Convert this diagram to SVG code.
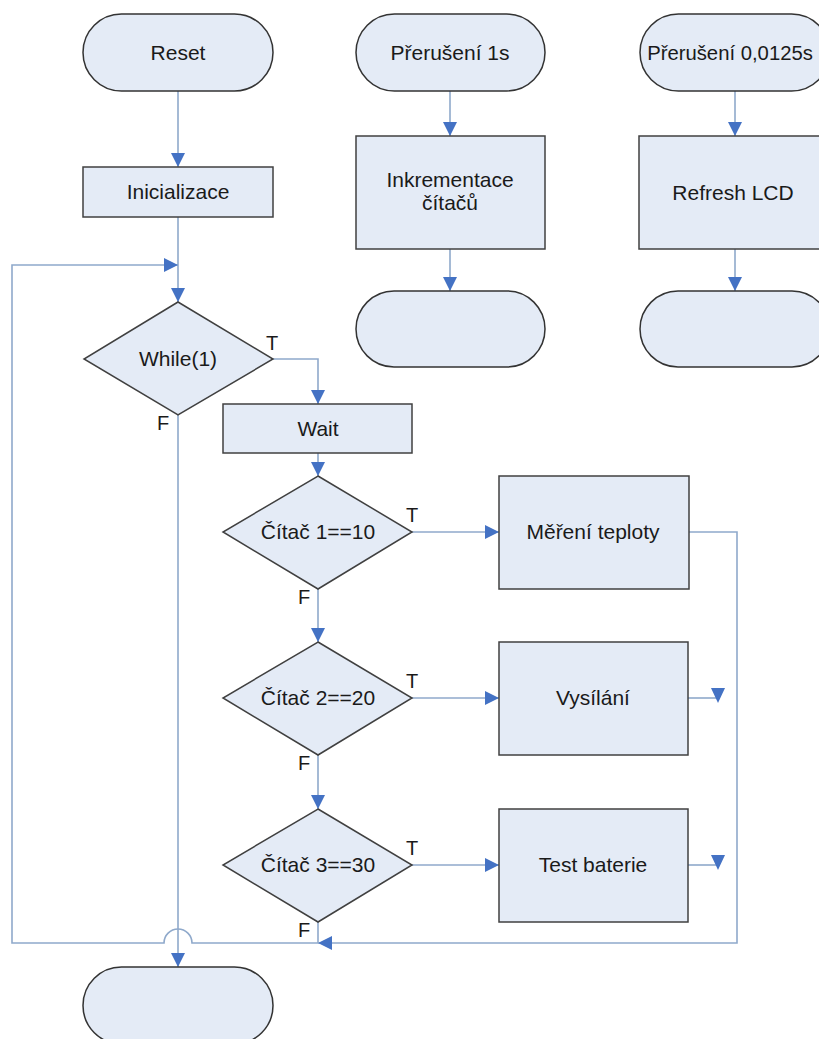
<svg xmlns="http://www.w3.org/2000/svg" width="819" height="1039" viewBox="0 0 819 1039">
  <defs>
    <marker id="arrow" viewBox="0 0 14 14" refX="14" refY="7" markerWidth="14" markerHeight="14" markerUnits="userSpaceOnUse" orient="auto">
      <path d="M0,0 L14,7 L0,14 Z" fill="#4472C4"/>
    </marker>
    <style>
      .shape { fill: #E4EBF6; stroke: #404040; stroke-width: 1.5; }
      .term { fill: #E4EBF6; stroke: #333333; stroke-width: 1.5; }
      .conn { fill: none; stroke: #8FA9CB; stroke-width: 1.6; }
      .head { fill: #4472C4; }
      text { font-family: "Liberation Sans", Arial, sans-serif; font-size: 21px; fill: #1a1a1a; text-anchor: middle; }
      .lbl { font-size: 20px; }
    </style>
  </defs>

  <rect width="819" height="1039" fill="#ffffff"/>

  <!-- connectors -->
  <g id="connectors">
    <!-- main program -->
    <path class="conn" d="M178,91 V167" marker-end="url(#arrow)"/>
    <path class="conn" d="M178,217 V302" marker-end="url(#arrow)"/>
    <path class="conn" d="M178,415 V967" marker-end="url(#arrow)"/>
    <path class="conn" d="M273,359 H318 V404" marker-end="url(#arrow)"/>
    <path class="conn" d="M318,453 V476" marker-end="url(#arrow)"/>
    <path class="conn" d="M412,532 H499" marker-end="url(#arrow)"/>
    <path class="conn" d="M318,589 V642" marker-end="url(#arrow)"/>
    <path class="conn" d="M412,698 H499" marker-end="url(#arrow)"/>
    <path class="conn" d="M318,755 V809" marker-end="url(#arrow)"/>
    <path class="conn" d="M412,865 H499" marker-end="url(#arrow)"/>
    <!-- return from Měření teploty -->
    <path class="conn" d="M689,532 H737 V943 H318" marker-end="url(#arrow)"/>
    <!-- loop back with jump over the exit line -->
    <path class="conn" d="M318,922 V943 H192 A14,14 0 0 0 164,943 H12 V265 H178" marker-end="url(#arrow)"/>
    <!-- short stubs from Vysílání and Test baterie -->
    <path class="conn" d="M688,698 H718"/>
    <path class="head" d="M711,688 L725,688 L718,703 Z"/>
    <path class="conn" d="M688,865 H718"/>
    <path class="head" d="M711,855 L725,855 L718,870 Z"/>
    <!-- interrupt 1s -->
    <path class="conn" d="M450,91 V136" marker-end="url(#arrow)"/>
    <path class="conn" d="M450,249 V291" marker-end="url(#arrow)"/>
    <!-- interrupt 0,0125s -->
    <path class="conn" d="M735,91 V136" marker-end="url(#arrow)"/>
    <path class="conn" d="M735,249 V291" marker-end="url(#arrow)"/>
  </g>

  <!-- main program nodes -->
  <g id="reset">
    <rect class="term" x="83" y="14" width="190" height="77" rx="38.5"/>
    <text x="178" y="60">Reset</text>
  </g>
  <g id="inicializace">
    <rect class="shape" x="83" y="167" width="190" height="50"/>
    <text x="178" y="199">Inicializace</text>
  </g>
  <g id="while">
    <polygon class="shape" points="178,302 273,359 178,415 84,359"/>
    <text x="178" y="366">While(1)</text>
    <text class="lbl" x="272" y="350">T</text>
    <text class="lbl" x="163" y="430">F</text>
  </g>
  <g id="wait">
    <rect class="shape" x="223" y="404" width="189" height="49"/>
    <text x="318" y="436">Wait</text>
  </g>
  <g id="citac1">
    <polygon class="shape" points="318,476 412,532 318,589 223,532"/>
    <text x="318" y="539">Čítač 1==10</text>
    <text class="lbl" x="412" y="522">T</text>
    <text class="lbl" x="304" y="604">F</text>
  </g>
  <g id="mereni">
    <rect class="shape" x="499" y="476" width="190" height="113"/>
    <text x="593" y="539">Měření teploty</text>
  </g>
  <g id="citac2">
    <polygon class="shape" points="318,642 412,698 318,755 223,698"/>
    <text x="318" y="705">Čítač 2==20</text>
    <text class="lbl" x="412" y="688">T</text>
    <text class="lbl" x="304" y="770">F</text>
  </g>
  <g id="vysilani">
    <rect class="shape" x="499" y="642" width="189" height="113"/>
    <text x="593" y="705">Vysílání</text>
  </g>
  <g id="citac3">
    <polygon class="shape" points="318,809 412,865 318,922 223,865"/>
    <text x="318" y="872">Čítač 3==30</text>
    <text class="lbl" x="412" y="855">T</text>
    <text class="lbl" x="304" y="937">F</text>
  </g>
  <g id="test-baterie">
    <rect class="shape" x="499" y="809" width="189" height="113"/>
    <text x="593" y="872">Test baterie</text>
  </g>
  <g id="end-main">
    <rect class="term" x="83" y="967" width="190" height="77" rx="38.5"/>
  </g>

  <!-- interrupt 1s -->
  <g id="int-1s">
    <rect class="term" x="356" y="14" width="189" height="77" rx="38.5"/>
    <text x="450" y="60">Přerušení 1s</text>
  </g>
  <g id="inkrementace">
    <rect class="shape" x="356" y="136" width="189" height="113"/>
    <text x="450" y="187">Inkrementace</text>
    <text x="450" y="210">čítačů</text>
  </g>
  <g id="end-1s">
    <rect class="term" x="356" y="291" width="189" height="76" rx="38"/>
  </g>

  <!-- interrupt 0,0125s -->
  <g id="int-lcd">
    <rect class="term" x="640" y="14" width="190" height="77" rx="38.5"/>
    <text x="730" y="60" style="font-size:20.3px">Přerušení 0,0125s</text>
  </g>
  <g id="refresh-lcd">
    <rect class="shape" x="639" y="136" width="190" height="113"/>
    <text x="733" y="200">Refresh LCD</text>
  </g>
  <g id="end-lcd">
    <rect class="term" x="640" y="291" width="190" height="76" rx="38"/>
  </g>
</svg>
